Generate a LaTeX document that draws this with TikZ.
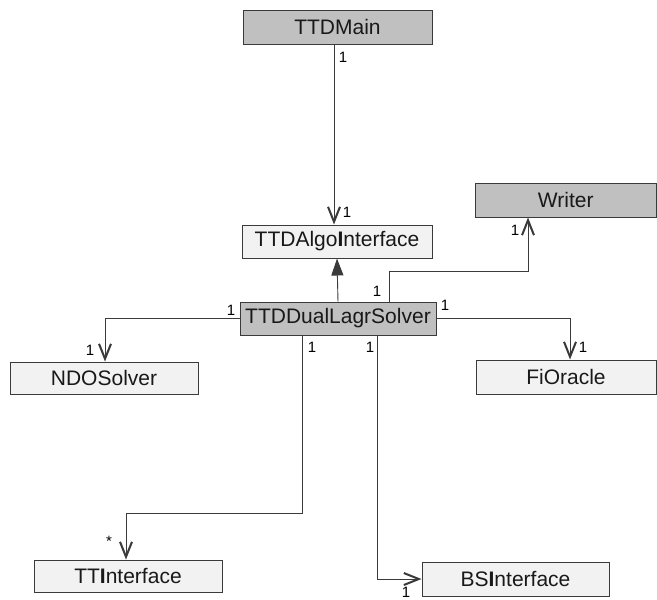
\documentclass[tikz,border=0pt]{standalone}
\usepackage{fontspec}
\setmainfont{Liberation Sans}
\usetikzlibrary{arrows.meta,calc}
\definecolor{clsdark}{HTML}{C0C0C0}
\definecolor{clslight}{HTML}{F2F2F2}
\definecolor{edge}{HTML}{3A3A3A}
\tikzset{
  cls/.style={draw=edge, line width=1pt, inner sep=0pt, font=\fontsize{21}{22}\selectfont, text=black!90},
  clsgray/.style={cls, fill=clsdark},
  clspale/.style={cls, fill=clslight},
  assoc/.style={draw=edge, line width=0.9pt, -{Straight Barb[length=15pt,width=12pt,line width=2pt]}},
  inherit/.style={draw=edge, line width=0.9pt, -{Triangle[length=17pt,width=12pt]}},
  mult/.style={inner sep=0pt, font=\fontsize{15}{16}\selectfont}
}
\begin{document}
\begin{tikzpicture}[x=1pt,y=-1pt]
\useasboundingbox (0,0) rectangle (657,600);

% classes
\node[clsgray, minimum width=189pt, minimum height=34pt] (main) at (337.5,27) {TTDMain};
\node[clspale, minimum width=190pt, minimum height=33pt] (algo) at (337,241.5) {TTDAlgo\textbf{I}nterface};
\node[clsgray, minimum width=181pt, minimum height=34pt] (writer) at (565.75,200) {Writer};
\node[clsgray, minimum width=196pt, minimum height=33pt] (solver) at (338,318.5) {TTDDualLagrSolver};
\node[clspale, minimum width=188pt, minimum height=32pt] (ndo) at (104,378) {NDOSolver};
\node[clspale, minimum width=180pt, minimum height=34pt] (fi) at (566,377) {FiOracle};
\node[clspale, minimum width=188pt, minimum height=32pt] (tti) at (128,576) {TT\textbf{I}nterface};
\node[clspale, minimum width=187pt, minimum height=34pt] (bsi) at (515.5,579) {BS\textbf{I}nterface};

% relations
\draw[assoc] ([xshift=-3.5pt]main.south) -- ([xshift=-3pt]algo.north);
\draw[inherit] (solver.north) -- (algo.south);
\draw[assoc] ([xshift=51pt]solver.north) -- ++(0,-30) -| ([xshift=-37.75pt]writer.south);
\draw[assoc] (solver.west) -| ([xshift=1pt]ndo.north);
\draw[assoc] (solver.east) -| ([xshift=4pt]fi.north);
\draw[assoc] ([xshift=-36pt]solver.south) -- ++(0,178) -| ([xshift=-2pt]tti.north);
\draw[assoc] ([xshift=39pt]solver.south) |- (bsi.west);

% multiplicities
\node[mult] (m1) at (343,57) {1};
\node[mult] (m2) at (347,212) {1};
\node[mult] (m3) at (377,291) {1};
\node[mult] (m4) at (515,230) {1};
\node[mult] (m5) at (231,310) {1};
\node[mult] (m6) at (90,350) {1};
\node[mult] (m7) at (445,305) {1};
\node[mult] (m8) at (583,347) {1};
\node[mult] (m9) at (312,347) {1};
\node[mult] (m10) at (109,541) {*};
\node[mult] (m11) at (370,347) {1};
\node[mult] (m12) at (406,592) {1};
\end{tikzpicture}
\end{document}
